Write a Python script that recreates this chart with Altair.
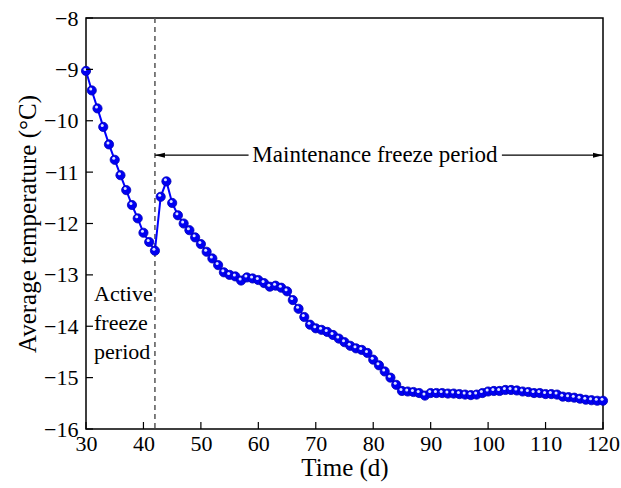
import altair as alt
import pandas as pd

days = list(range(30, 121))
temps = [
    -9.03, -9.41, -9.76, -10.12, -10.46, -10.76, -11.06, -11.35, -11.64, -11.90,
    -12.18, -12.36, -12.53, -11.48, -11.18, -11.60, -11.84, -12.00, -12.13, -12.27,
    -12.40, -12.55, -12.68, -12.81, -12.95, -13.00, -13.03, -13.11, -13.05, -13.07,
    -13.10, -13.16, -13.23, -13.21, -13.25, -13.32, -13.49, -13.66, -13.82, -13.97,
    -14.04, -14.07, -14.11, -14.17, -14.24, -14.31, -14.38, -14.43, -14.46, -14.52,
    -14.65, -14.76, -14.88, -15.00, -15.14, -15.26, -15.27, -15.28, -15.30, -15.35,
    -15.30, -15.30, -15.30, -15.31, -15.31, -15.32, -15.33, -15.34, -15.33, -15.30,
    -15.27, -15.26, -15.26, -15.24, -15.24, -15.25, -15.27, -15.28, -15.30, -15.30,
    -15.32, -15.32, -15.33, -15.37, -15.38, -15.39, -15.41, -15.43, -15.44, -15.45,
    -15.45,
]
x_ticks = [30, 40, 50, 60, 70, 80, 90, 100, 110, 120]
y_ticks = [-16, -15, -14, -13, -12, -11, -10, -9, -8]
boundary_day = 42
arrow_level = -10.67
maint_text = "Maintenance freeze period"
maint_text_day = 80.3
maint_gap = [58.3, 102.4]
active_text = "Active\nfreeze\nperiod"
active_pos = [31.4, -13.18]

FONT = "Times New Roman, DejaVu Serif"
W, H = 517, 411

df = pd.DataFrame({"day": days, "temp": temps})

xs = alt.Scale(domain=[30, 120], nice=False, zero=False)
ys = alt.Scale(domain=[-16, -8], nice=False, zero=False)

xaxis = alt.Axis(values=x_ticks, ticks=False, domain=False, grid=False, labelFont=FONT,
                 labelFontSize=22, labelColor="black", labelPadding=4, labelFlush=False,
                 title="Time (d)", titleFont=FONT, titleFontSize=25, titleFontWeight="normal",
                 titleColor="black", titleX=W / 2, titleY=38, titleBaseline="middle")
yaxis = alt.Axis(values=y_ticks, ticks=False, domain=False, grid=False, labelFont=FONT,
                 labelFontSize=22, labelColor="black", labelPadding=8, labelFlush=False,
                 title="Average temperature (°C)", titleFont=FONT, titleFontSize=25,
                 titleFontWeight="normal", titleColor="black", titleX=-59, titleY=H / 2,
                 titleAngle=-90, titleAlign="center", titleBaseline="middle")

line = alt.Chart(df).mark_line(color="#0000FF", strokeWidth=2).encode(
    x=alt.X("day:Q", scale=xs, axis=xaxis),
    y=alt.Y("temp:Q", scale=ys, axis=yaxis),
)
pts = alt.Chart(df).mark_point(filled=True, shape="circle", size=85, color="#0000F2",
                               stroke="#0000B8", strokeWidth=0.8, opacity=1).encode(
    x=alt.X("day:Q", scale=xs), y=alt.Y("temp:Q", scale=ys))
hl = alt.Chart(df).mark_point(filled=True, shape="circle", size=9, color="#DDE3FF",
                              opacity=1, xOffset=-1, yOffset=-1.5).encode(
    x=alt.X("day:Q", scale=xs), y=alt.Y("temp:Q", scale=ys))

xt = pd.DataFrame({"v": x_ticks})
yt = pd.DataFrame({"v": y_ticks})
xtick = alt.Chart(xt).mark_rule(color="black", strokeWidth=1.2).encode(
    x=alt.X("v:Q", scale=xs), y=alt.value(H), y2=alt.value(H - 7))
ytick = alt.Chart(yt).mark_rule(color="black", strokeWidth=1.2).encode(
    y=alt.Y("v:Q", scale=ys), x=alt.value(0), x2=alt.value(7))

bd = pd.DataFrame({"d": [boundary_day]})
dash = alt.Chart(bd).mark_rule(color="#555555", strokeWidth=1.5, strokeDash=[5, 4]).encode(
    x=alt.X("d:Q", scale=xs), y=alt.value(0), y2=alt.value(H))

seg = pd.DataFrame({"a": [boundary_day, maint_gap[1]], "b": [maint_gap[0], 120],
                    "y": [arrow_level, arrow_level]})
arrow_lines = alt.Chart(seg).mark_rule(color="black", strokeWidth=1.2).encode(
    x=alt.X("a:Q", scale=xs), x2="b:Q", y=alt.Y("y:Q", scale=ys))
head_l = alt.Chart(pd.DataFrame({"x": [boundary_day], "y": [arrow_level]})).mark_point(
    shape="M0,0 L2,-0.5 L2,0.5 Z", size=100, filled=True, color="black", opacity=1).encode(
    x=alt.X("x:Q", scale=xs), y=alt.Y("y:Q", scale=ys))
head_r = alt.Chart(pd.DataFrame({"x": [120], "y": [arrow_level]})).mark_point(
    shape="M0,0 L-2,-0.5 L-2,0.5 Z", size=100, filled=True, color="black", opacity=1).encode(
    x=alt.X("x:Q", scale=xs), y=alt.Y("y:Q", scale=ys))

mtext = alt.Chart(pd.DataFrame({"x": [maint_text_day], "y": [arrow_level], "t": [maint_text]})).mark_text(
    font=FONT, fontSize=23, color="black", align="center", baseline="middle").encode(
    x=alt.X("x:Q", scale=xs), y=alt.Y("y:Q", scale=ys), text="t:N")
atext = alt.Chart(pd.DataFrame({"x": [active_pos[0]], "y": [active_pos[1]], "t": [active_text]})).mark_text(
    font=FONT, fontSize=22, color="black", align="left", baseline="top", lineBreak="\n",
    lineHeight=29).encode(
    x=alt.X("x:Q", scale=xs), y=alt.Y("y:Q", scale=ys), text="t:N")

chart = alt.layer(dash, arrow_lines, head_l, head_r, mtext, atext, line, pts, hl, xtick, ytick).properties(
    width=W, height=H,
    autosize=alt.AutoSizeParams(type="none"),
    padding={"left": 86, "top": 18, "right": 18, "bottom": 59},
    background="white",
).configure_view(stroke="black", strokeWidth=1.5)

chart.save("out.html", embed_options={"renderer": "svg", "actions": False})
